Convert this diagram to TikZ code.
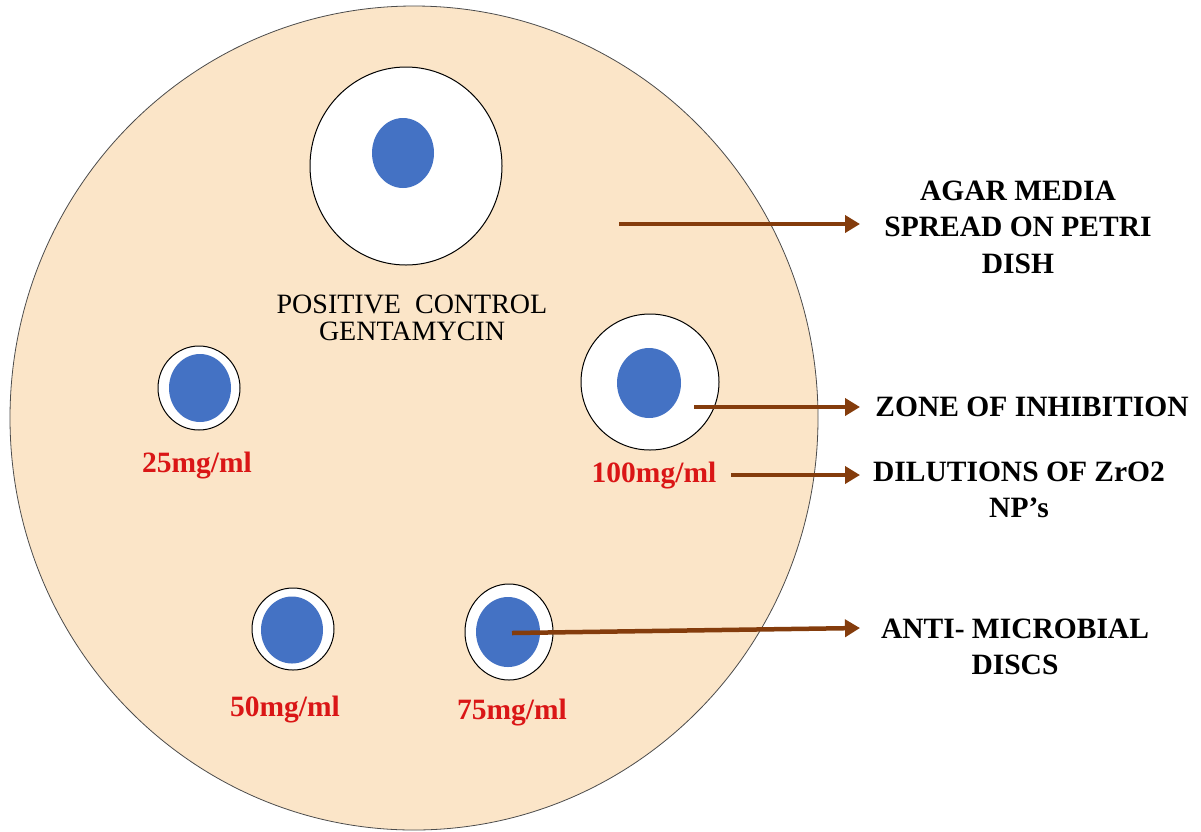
\documentclass[tikz,border=0pt]{standalone}
\usepackage{fontspec}
\setmainfont{Liberation Serif}
\usetikzlibrary{arrows.meta,shapes.geometric}
\definecolor{agar}{RGB}{251,229,200}
\definecolor{discblue}{RGB}{68,114,196}
\definecolor{arrbrown}{RGB}{132,60,12}
\definecolor{labred}{RGB}{218,22,22}
\begin{document}
\begin{tikzpicture}[x=1pt,y=-1pt,
  dish/.style={ellipse, draw=black!70, line width=0.8pt, fill=agar, inner sep=0pt},
  zone/.style={ellipse, draw=black, line width=1pt, fill=white, inner sep=0pt},
  disc/.style={ellipse, fill=discblue, inner sep=0pt},
  ptr/.style={draw=arrbrown, line width=4.5pt, -{Triangle[length=15pt,width=17pt]}},
  rlab/.style={font=\fontsize{29.5}{36.5}\selectfont\bfseries, align=center, inner sep=0pt},
  conc/.style={font=\fontsize{29.5}{34}\selectfont\bfseries, text=labred, inner sep=0pt},
  ctl/.style={font=\fontsize{28}{27.5}\selectfont, align=center, inner sep=0pt}]
\useasboundingbox (0,0) rectangle (1201,831);
\fill[white] (0,0) rectangle (1201,831);
% petri dish
\node[dish, minimum width=808pt, minimum height=824pt] (dish) at (414,418) {};
% zones of inhibition
\node[zone, minimum width=192pt, minimum height=198pt] (zpc) at (406,166) {};
\node[zone, minimum width=138pt, minimum height=136pt] (z100) at (650,382) {};
\node[zone, minimum width=82pt, minimum height=84pt] (z25) at (199,388) {};
\node[zone, minimum width=82pt, minimum height=82pt] (z50) at (293,629) {};
\node[zone, minimum width=88pt, minimum height=96pt] (z75) at (509,632) {};
% discs
\node[disc, minimum width=62pt, minimum height=70pt] (dpc) at (403,153) {};
\node[disc, minimum width=64pt, minimum height=70pt] (d100) at (649,383) {};
\node[disc, minimum width=62pt, minimum height=68pt] (d25) at (200,388) {};
\node[disc, minimum width=62pt, minimum height=67pt] (d50) at (292,630) {};
\node[disc, minimum width=64pt, minimum height=70pt] (d75) at (508,632) {};
% texts
\node[ctl] (pc) at (412,318) {POSITIVE\ \ CONTROL\\GENTAMYCIN};
\node[conc] (c25) at (197,466) {25mg/ml};
\node[conc] (c100) at (654,476) {100mg/ml};
\node[conc] (c50) at (285,710) {50mg/ml};
\node[conc] (c75) at (512,713) {75mg/ml};
\node[rlab] (lagar) at (1018,227) {AGAR MEDIA\\SPREAD ON PETRI\\DISH};
\node[rlab] (lzone) at (1032,407) {ZONE OF INHIBITION};
\node[rlab] (ldil) at (1019,490) {DILUTIONS OF ZrO2\\NP’s};
\node[rlab] (ldisc) at (1015,647) {ANTI- MICROBIAL\\DISCS};
% arrows
\coordinate (s1) at (619,224); \coordinate (e1) at (860,224);
\coordinate (s2) at (694,407); \coordinate (e2) at (860,407);
\coordinate (s3) at (731,475); \coordinate (e3) at (860,475);
\coordinate (s4) at (512,633); \coordinate (e4) at (860,628);
\draw[ptr] (s1) -- (e1);
\draw[ptr] (s2) -- (e2);
\draw[ptr] (s3) -- (e3);
\draw[ptr] (s4) -- (e4);
\end{tikzpicture}
\end{document}
